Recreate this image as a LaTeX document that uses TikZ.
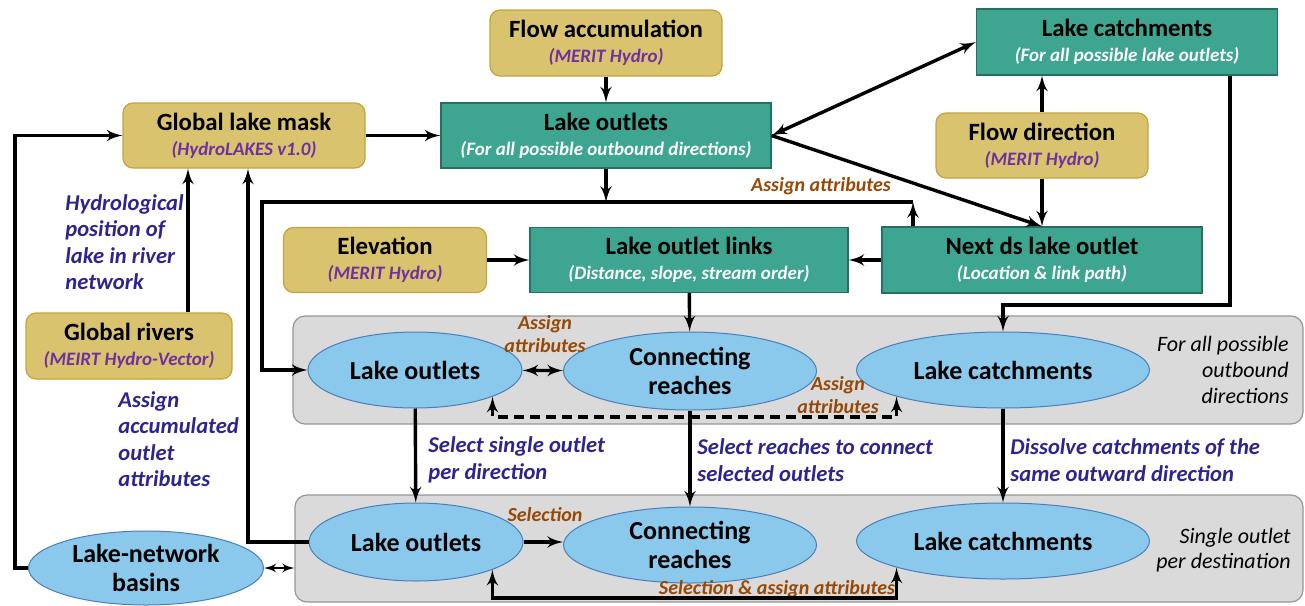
\documentclass[tikz,border=0pt]{standalone}
\usepackage{fontspec}
\setmainfont{Carlito}
\usepackage{tikz}
\usetikzlibrary{arrows}
\usetikzlibrary{arrows.meta,shapes.geometric}

\definecolor{srcfill}{RGB}{217,195,110}
\definecolor{srcline}{RGB}{196,164,62}
\definecolor{procfill}{RGB}{61,165,144}
\definecolor{procline}{RGB}{38,112,96}
\definecolor{ellfill}{RGB}{138,201,236}
\definecolor{ellline}{RGB}{74,126,187}
\definecolor{panelfill}{RGB}{218,218,218}
\definecolor{panelline}{RGB}{150,150,150}
\definecolor{srcpurple}{RGB}{112,48,160}
\definecolor{notesblue}{RGB}{46,36,140}
\definecolor{attrbrown}{RGB}{151,72,6}

\newcommand{\boxtitle}[1]{{\fontsize{12.4}{12.5}\selectfont\bfseries #1}}
\newcommand{\srcnote}[1]{{\fontsize{9.5}{12.5}\selectfont\bfseries\itshape\color{srcpurple}(#1)}}
\newcommand{\procnote}[1]{{\fontsize{9.5}{12.5}\selectfont\bfseries\itshape\color{white}(#1)}}

\begin{document}
\begin{tikzpicture}[x=0.5pt, y=-0.5pt,
  srcbox/.style={draw=srcline, fill=srcfill, rounded corners=5pt, line width=0.6pt, align=center, inner sep=0pt, font=\fontsize{12}{12.5}\selectfont},
  procbox/.style={draw=procline, fill=procfill, line width=0.6pt, align=center, inner sep=0pt, font=\fontsize{12}{12.5}\selectfont},
  layer/.style={ellipse, draw=ellline, fill=ellfill, line width=0.5pt, align=center, inner sep=0pt, font=\fontsize{13}{14.5}\selectfont\bfseries},
  panel/.style={draw=panelline, fill=panelfill, rounded corners=6pt, line width=0.6pt},
  flow/.style={->, >=latex', line width=1.7pt},
  twoway/.style={<->, >=latex', line width=1.7pt},
  note/.style={align=left, inner sep=0pt, text=notesblue, font=\fontsize{11.3}{13.2}\selectfont\bfseries\itshape},
  attr/.style={align=center, inner sep=0pt, text=attrbrown, font=\fontsize{10}{11.5}\selectfont\bfseries\itshape},
  side/.style={align=right, inner sep=0pt, font=\fontsize{11}{12.8}\selectfont\itshape}]
\useasboundingbox (0,0) rectangle (1305,605);

% grey layers
\node[panel, minimum width=505pt, minimum height=54pt] (allpanel) at (798,370) {};
\node[panel, minimum width=504pt, minimum height=53.5pt] (singlepanel) at (799,548.5) {};
\node[side, anchor=east] (alltxt) at (1289,370) {For all possible\\outbound\\directions};
\node[side, anchor=east] (singletxt) at (1291,550) {Single outlet\\per destination};

% input data
\node[srcbox, minimum width=116pt, minimum height=33pt] (flowacc) at (606,43) {\boxtitle{Flow accumulation}\\\srcnote{MERIT Hydro}};
\node[srcbox, minimum width=121pt, minimum height=32.5pt] (mask) at (244,135.5) {\boxtitle{Global lake mask}\\\srcnote{HydroLAKES v1.0}};
\node[srcbox, minimum width=106pt, minimum height=32.5pt] (flowdir) at (1042,145.5) {\boxtitle{Flow direction}\\\srcnote{MERIT Hydro}};
\node[srcbox, minimum width=101.5pt, minimum height=32.5pt] (elev) at (385,260) {\boxtitle{Elevation}\\\srcnote{MERIT Hydro}};
\node[srcbox, minimum width=103pt, minimum height=33pt] (rivers) at (129,346) {\boxtitle{Global rivers}\\\srcnote{MEIRT Hydro-Vector}};

% processed products
\node[procbox, minimum width=165pt, minimum height=32.5pt] (outlets) at (606,135.5) {\boxtitle{Lake outlets}\\\procnote{For all possible outbound directions}};
\node[procbox, minimum width=150.5pt, minimum height=33pt] (catch) at (1127,42) {\boxtitle{Lake catchments}\\\procnote{For all possible lake outlets}};
\node[procbox, minimum width=160pt, minimum height=33pt] (nextds) at (1042,260) {\boxtitle{Next ds lake outlet}\\\procnote{Location \& link path}};
\node[procbox, minimum width=159pt, minimum height=32.5pt] (links) at (689,260) {\boxtitle{Lake outlet links}\\\procnote{Distance, slope, stream order}};

% vector layers
\node[layer, minimum width=107pt, minimum height=38pt] (lo1) at (415,370) {Lake outlets};
\node[layer, minimum width=126.5pt, minimum height=39pt] (cr1) at (690,371) {Connecting\\reaches};
\node[layer, minimum width=146.5pt, minimum height=38pt] (lc1) at (1003,370) {Lake catchments};
\node[layer, minimum width=107pt, minimum height=39pt] (lo2) at (416,542) {Lake outlets};
\node[layer, minimum width=126.5pt, minimum height=38pt] (cr2) at (690,545) {Connecting\\reaches};
\node[layer, minimum width=146.5pt, minimum height=38pt] (lc2) at (1003,541) {Lake catchments};
\node[layer, minimum width=117.5pt, minimum height=37pt] (basins) at (146,568) {Lake-network\\basins};

% labels
\node[note, anchor=west] (hydnote) at (65,242) {Hydrological\\position of\\lake in river\\network};
\node[note, anchor=west] (accnote) at (118,439) {Assign\\accumulated\\outlet\\attributes};
\node[note, anchor=west] (selnote) at (428,460) {Select single outlet\\per direction};
\node[note, anchor=west] (reachnote) at (697,460) {Select reaches to connect\\selected outlets};
\node[note, anchor=west] (dissnote) at (1010,460) {Dissolve catchments of the\\same outward direction};
\node[attr] (attrtop) at (821,186) {Assign attributes};
\node[attr] (attrlo) at (545,334) {Assign\\attributes};
\node[attr] (attrlc) at (838,395) {Assign\\attributes};
\node[attr] (seltxt) at (545,515) {Selection};
\node[attr] (selattr) at (777,589) {Selection \& assign attributes};

\path
    (flowacc) edge[flow] (outlets)
    (mask) edge[flow] (outlets)
    (outlets.east) edge[twoway] (catch.west)
    (outlets.east) edge[flow] (nextds.north)
    (flowdir.north) edge[flow] (flowdir.north |- catch.south)
    (flowdir) edge[flow] (nextds)
    (elev) edge[flow] (links)
    (nextds) edge[flow] (links)
    (links) edge[flow] (cr1)
    (lo1) edge[twoway] (cr1)
    (lo1) edge[flow] (lo2)
    (cr1) edge[flow] (cr2)
    (lc1) edge[flow] (lc2)
    (outlets.south) edge[flow] (606,202)
    (nextds.north -| 913,0) edge[flow] (913,202);

\draw[flow] (catch.south -| 1230,0) -- (1230,305) -| (lc1.north);
\draw[flow] (913,202) -- (262,202) |- (lo1.west);
\draw[twoway, dash pattern=on 5pt off 3pt] (lo1.-19) |- (lc1.194 |- 0,417) -- (lc1.194);
\draw[flow] (lo2.east) -- (lo2.east -| cr2.west);
\draw[twoway] (lo2.-20) |- (lc2.194 |- 0,598) -- (lc2.194);
\draw[twoway, line width=1.1pt] (basins.east) -- (basins.east -| singlepanel.west);
\draw[flow] (lo2.west) -| (mask.south -| 248,0);
\draw[flow] (rivers.north -| 188,0) -- (mask.south -| 188,0);
\draw[flow] (basins.west) -- (15,568) |- (mask.west);
\end{tikzpicture}
\end{document}
